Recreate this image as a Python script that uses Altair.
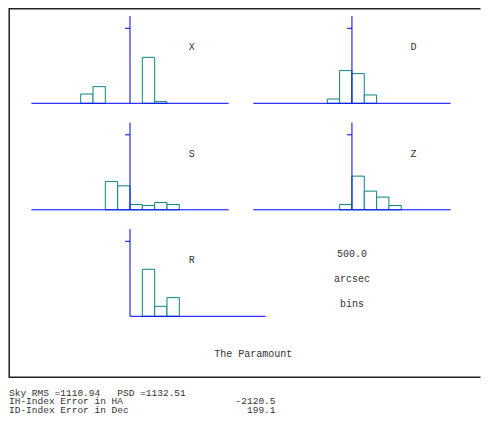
import altair as alt
import pandas as pd

# ---- data (fractions per 500-arcsec bin; bin index = left edge) ----
panel_names = ["X", "D", "S", "Z", "R"]
X_bins = [-4, -3, 1, 2]
X_frac = [0.124, 0.222, 0.613, 0.022]
D_bins = [-2, -1, 0, 1]
D_frac = [0.057, 0.436, 0.396, 0.111]
S_bins = [-2, -1, 0, 1, 2, 3]
S_frac = [0.378, 0.320, 0.071, 0.058, 0.098, 0.071]
Z_bins = [-1, 0, 1, 2, 3]
Z_frac = [0.071, 0.449, 0.249, 0.169, 0.057]
R_bins = [1, 2, 3]
R_frac = [0.627, 0.133, 0.249]

bin_text = ["500.0", "arcsec", "bins"]
footer = "The Paramount"
NB = "\u00a0"
stat_lines = ["Sky RMS =1110.94" + NB * 3 + "PSD =1132.51",
              "IH-Index Error in HA",
              "ID-Index Error in Dec"]
stat_values = ["", "-2120.5", "199.1"]

# ---- layout (panel origins in bin / fraction units) ----
col_off = {"X": 0, "S": 0, "R": 0, "D": 18, "Z": 18}
row_off = {"X": 2.84, "D": 2.84, "S": 1.42, "Z": 1.42, "R": 0.0}
xaxis_span = {"X": (-8, 8), "D": (-8, 8), "S": (-8, 8), "Z": (-8, 8), "R": (0, 11)}

series = {"X": (X_bins, X_frac), "D": (D_bins, D_frac), "S": (S_bins, S_frac),
          "Z": (Z_bins, Z_frac), "R": (R_bins, R_frac)}

bar_rows = []
for p in panel_names:
    b, f = series[p]
    for bi, fi in zip(b, f):
        bar_rows.append({"panel": p, "x": bi + col_off[p], "x2": bi + 1 + col_off[p],
                         "y": row_off[p], "y2": row_off[p] + fi})
bars_df = pd.DataFrame(bar_rows)

axis_rows = []
for p in panel_names:
    a0, a1 = xaxis_span[p]
    axis_rows.append({"x": a0 + col_off[p], "x2": a1 + col_off[p], "y": row_off[p], "y2": row_off[p]})
    axis_rows.append({"x": col_off[p], "x2": col_off[p], "y": row_off[p], "y2": row_off[p] + 1.163})
    axis_rows.append({"x": col_off[p] - 0.4, "x2": col_off[p], "y": row_off[p] + 1.0, "y2": row_off[p] + 1.0})
axis_df = pd.DataFrame(axis_rows)

label_df = pd.DataFrame({"t": panel_names,
                         "x": [col_off[p] + 5 for p in panel_names],
                         "y": [row_off[p] + 0.75 for p in panel_names]})
bintext_df = pd.DataFrame({"t": bin_text, "x": [18, 18, 18], "y": [0.835, 0.493, 0.168]})
footer_df = pd.DataFrame({"t": [footer], "x": [10.0], "y": [-0.507]})

W, H = 473, 406
BW = 12.33
x_axis0 = 122.0
base_R = 308.3
xs = alt.Scale(domain=[-x_axis0 / BW, (W - x_axis0) / BW], nice=False, zero=False)
ys = alt.Scale(domain=[-(H - base_R) / 75.0, base_R / 75.0], nice=False, zero=False)

FONT = "Liberation Mono"
TXT = "#333333"

bars = alt.Chart(bars_df).mark_rect(fill="white", stroke="#0a8585", strokeWidth=1).encode(
    x=alt.X("x:Q", scale=xs, axis=None), x2="x2:Q",
    y=alt.Y("y:Q", scale=ys, axis=None), y2="y2:Q")

axes = alt.Chart(axis_df).mark_rule(color="#0000ff", strokeWidth=1).encode(
    x=alt.X("x:Q", scale=xs, axis=None), x2="x2:Q",
    y=alt.Y("y:Q", scale=ys, axis=None), y2="y2:Q")

labels = alt.Chart(label_df).mark_text(font=FONT, fontSize=10, color=TXT).encode(
    x=alt.X("x:Q", scale=xs, axis=None), y=alt.Y("y:Q", scale=ys, axis=None), text="t:N")

bintext = alt.Chart(bintext_df).mark_text(font=FONT, fontSize=10, color=TXT).encode(
    x=alt.X("x:Q", scale=xs, axis=None), y=alt.Y("y:Q", scale=ys, axis=None), text="t:N")

foot = alt.Chart(footer_df).mark_text(font=FONT, fontSize=10, color=TXT).encode(
    x=alt.X("x:Q", scale=xs, axis=None), y=alt.Y("y:Q", scale=ys, axis=None), text="t:N")

# open frame drawn as one path: top edge, left edge, bottom edge
FR = "#222222"
frame_df = pd.DataFrame({"order": [0, 1, 2, 3],
                         "fx": [W - 0.5, 1.2, 1.2, W - 0.5],
                         "fy": [0.8, 0.8, 369.2, 369.2]})
pix_x = alt.Scale(domain=[0, W], range=[0, W])
pix_y = alt.Scale(domain=[0, H], range=[0, H])
frame = alt.Chart(frame_df).mark_line(color=FR, strokeWidth=1.5, strokeCap="butt").encode(
    x=alt.X("fx:Q", scale=pix_x, axis=None),
    y=alt.Y("fy:Q", scale=pix_y, axis=None),
    order="order:Q")

stats_df = pd.DataFrame({"t": stat_lines, "v": stat_values, "py": [384.5, 393.0, 401.5]})
stats_l = alt.Chart(stats_df).mark_text(font=FONT, fontSize=9.5, color=TXT, align="left",
                                        baseline="middle").encode(
    x=alt.value(1), y=alt.Y("py:Q", scale=pix_y, axis=None), text="t:N")
stats_r = alt.Chart(stats_df).mark_text(font=FONT, fontSize=9.5, color=TXT, align="right",
                                        baseline="middle").encode(
    x=alt.value(267.5), y=alt.Y("py:Q", scale=pix_y, axis=None), text="v:N")

chart = alt.layer(frame, bars, axes, labels, bintext, foot,
                  stats_l, stats_r).resolve_scale(x="independent", y="independent").properties(
    width=W, height=H, autosize=alt.AutoSizeParams(type="none"), padding=0,
    background="white"
).configure_view(strokeWidth=0, stroke="transparent")

chart.save("out.html", embed_options={"renderer": "svg", "actions": False})
